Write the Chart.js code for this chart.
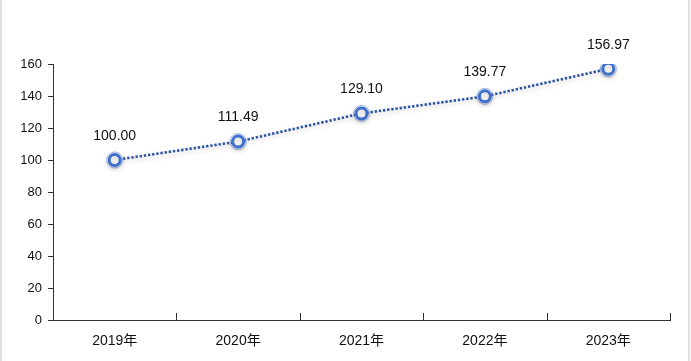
<!DOCTYPE html>
<html>
<head>
<meta charset="utf-8">
<script src="https://cdn.jsdelivr.net/npm/chart.js@4/dist/chart.umd.min.js"></script>
<style>
  html, body { margin: 0; padding: 0; background: #fff; }
  #wrap { width: 691px; height: 361px; }
</style>
</head>
<body>
<div id="wrap"><canvas id="myChart" width="691" height="361"></canvas></div>
<script>
const years = ["2019年", "2020年", "2021年", "2022年", "2023年"];
const indexValues = [100.0, 111.49, 129.1, 139.77, 156.97];
const yTicks = [0, 20, 40, 60, 80, 100, 120, 140, 160];

const ctx = document.getElementById("myChart").getContext("2d");

// soft shadow under the line + markers
const shadowPlugin = {
  id: "shadow",
  beforeDatasetDraw(chart, args) {
    const c = chart.ctx;
    c.save();
    if (args.index === 0) {
      c.shadowColor = "rgba(120, 100, 90, 0.35)";
      c.shadowBlur = 5;
      c.shadowOffsetY = 2;
    }
  },
  afterDatasetDraw(chart) {
    chart.ctx.restore();
  },
};

// value labels above points, axis ticks, frame
const decoPlugin = {
  id: "deco",
  beforeDraw(chart) {
    const c = chart.ctx;
    c.save();
    c.strokeStyle = "#d6d6d6";
    c.lineWidth = 1.5;
    c.beginPath();
    c.moveTo(1, 0);
    c.lineTo(1, chart.height);
    c.moveTo(689, 0);
    c.lineTo(689, chart.height);
    c.stroke();
    c.restore();
  },
  afterDraw(chart) {
    const c = chart.ctx;
    const xs = chart.scales.x;
    const ys = chart.scales.y;
    c.save();
    c.strokeStyle = "#333";
    c.lineWidth = 1;
    // x ticks between categories, pointing up
    for (let i = 0; i <= years.length; i++) {
      const px = Math.round(xs.getPixelForValue(i - 0.5)) + 0.5;
      c.beginPath();
      c.moveTo(px, ys.bottom);
      c.lineTo(px, ys.bottom - 7);
      c.stroke();
    }
    // labels
    const meta = chart.getDatasetMeta(0);
    c.fillStyle = "#111";
    c.font = "14px 'Liberation Sans', sans-serif";
    c.textAlign = "center";
    c.textBaseline = "middle";
    meta.data.forEach((pt, i) => {
      c.fillText(indexValues[i].toFixed(2), pt.x, pt.y - 24);
    });
    c.restore();
  },
};

const myChart = new Chart(ctx, {
  type: "line",
  data: {
    labels: years,
    datasets: [
      {
        data: indexValues,
        borderColor: "#2f56a6",
        borderWidth: 2.6,
        borderDash: [2.4, 1.8],
        fill: false,
        tension: 0,
        pointRadius: 5.5,
        pointBorderWidth: 3,
        pointBorderColor: "#3d6fcc",
        pointBackgroundColor: "#fff",
        order: 1,
      },
      {
        data: indexValues,
        showLine: false,
        pointRadius: 8,
        pointBorderWidth: 1,
        pointBorderColor: "rgba(80, 125, 205, 0.55)",
        pointBackgroundColor: "rgba(0,0,0,0)",
        order: 0,
      },
    ],
  },
  options: {
    responsive: false,
    animation: false,
    layout: {
      padding: { top: 64, right: 21, bottom: 0, left: 0 },
    },
    scales: {
      x: {
        type: "category",
        offset: true,
        grid: { display: false, offset: true },
        border: { display: true, color: "#333", width: 1 },
        ticks: {
          color: "#111",
          padding: 5,
          font: { size: 14, family: "'Liberation Sans', 'Noto Sans CJK SC', sans-serif" },
        },
        afterFit(scale) {
          scale.height = 41;
        },
      },
      y: {
        min: 0,
        max: 160,
        afterBuildTicks(scale) {
          scale.ticks = yTicks.map((v) => ({ value: v }));
        },
        grid: {
          drawOnChartArea: false,
          drawTicks: true,
          tickLength: 5,
          color: "#333",
        },
        border: { display: true, color: "#333", width: 1 },
        ticks: {
          color: "#111",
          padding: 6,
          font: { size: 13, family: "'Liberation Sans', sans-serif" },
        },
        afterFit(scale) {
          scale.width = 53;
        },
      },
    },
    plugins: {
      legend: { display: false },
      tooltip: { enabled: false },
    },
  },
  plugins: [shadowPlugin, decoPlugin],
});
</script>
</body>
</html>
